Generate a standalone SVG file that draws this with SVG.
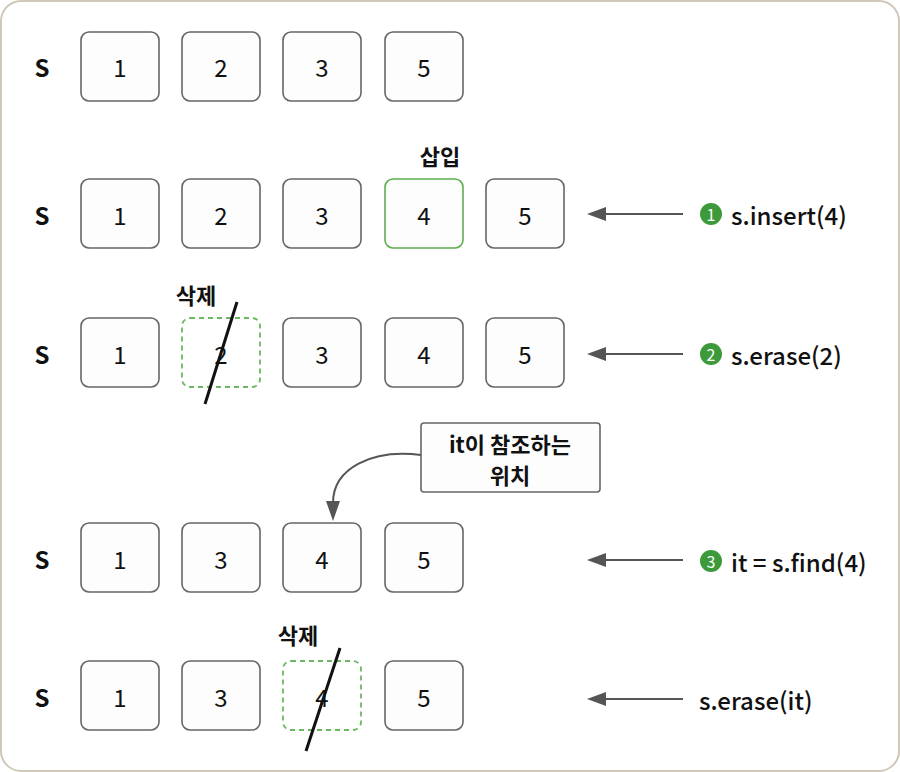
<svg xmlns="http://www.w3.org/2000/svg" width="900" height="772" viewBox="0 0 900 772">
<defs>
<style>
.frame{fill:#fff;stroke:#cfc8b8;stroke-width:2}
.box{fill:#fdfdfd;stroke:#666;stroke-width:1.6}
.ins{fill:#fdfdfd;stroke:#5cae4f;stroke-width:1.6}
.del{fill:none;stroke:#6ab85f;stroke-width:1.8;stroke-dasharray:5 4}
.t{font-family:"Noto Sans CJK KR","Noto Sans",sans-serif;font-size:24px;fill:#111;text-anchor:middle;dominant-baseline:central}
.s{font-family:"Noto Sans CJK KR","Noto Sans",sans-serif;font-size:24px;font-weight:bold;fill:#111;text-anchor:middle;dominant-baseline:central}
.lbl{font-family:"Noto Sans CJK KR","Noto Sans",sans-serif;font-size:24px;font-weight:500;fill:#111;dominant-baseline:central}
.k{font-family:"Noto Sans CJK KR",sans-serif;font-size:22px;font-weight:bold;fill:#111;text-anchor:middle;dominant-baseline:central}
.c{font-family:"Noto Sans CJK KR",sans-serif;font-size:22px;font-weight:bold;fill:#111;text-anchor:middle;dominant-baseline:central}
.num{font-family:"Noto Sans CJK KR","Noto Sans",sans-serif;font-size:16px;fill:#fff;text-anchor:middle;dominant-baseline:central}
.arr{stroke:#555;stroke-width:2;fill:none}
.head{fill:#555}
.slash{stroke:#111;stroke-width:3}
</style>
</defs>
<rect class="frame" x="1" y="1" width="898" height="770" rx="20"/>

<g id="row1">
<text class="s" x="42" y="66">S</text>
<g id="r1n1"><rect class="box" x="81" y="32" width="78" height="69" rx="8"/><text class="t" x="120" y="66">1</text></g>
<g id="r1n2"><rect class="box" x="182" y="32" width="78" height="69" rx="8"/><text class="t" x="221" y="66">2</text></g>
<g id="r1n3"><rect class="box" x="283" y="32" width="78" height="69" rx="8"/><text class="t" x="322" y="66">3</text></g>
<g id="r1n5"><rect class="box" x="385" y="32" width="78" height="69" rx="8"/><text class="t" x="424" y="66">5</text></g>
</g>

<g id="row2">
<text class="s" x="42" y="214">S</text>
<g id="r2n1"><rect class="box" x="81" y="179" width="78" height="69" rx="8"/><text class="t" x="120" y="214">1</text></g>
<g id="r2n2"><rect class="box" x="182" y="179" width="78" height="69" rx="8"/><text class="t" x="221" y="214">2</text></g>
<g id="r2n3"><rect class="box" x="283" y="179" width="78" height="69" rx="8"/><text class="t" x="322" y="214">3</text></g>
<g id="r2n4"><text class="k" x="440" y="155">삽입</text><rect class="ins" x="385" y="179" width="78" height="69" rx="8"/><text class="t" x="424" y="214">4</text></g>
<g id="r2n5"><rect class="box" x="486" y="179" width="78" height="69" rx="8"/><text class="t" x="525" y="214">5</text></g>
<g id="step1"><circle cx="711" cy="214" r="11" fill="#3d9a3a"/><text class="num" x="711" y="214">1</text><text class="lbl" x="731" y="214">s.insert(4)</text></g>
</g>

<g id="row3">
<text class="s" x="42" y="353">S</text>
<g id="r3n1"><rect class="box" x="81" y="318" width="78" height="69" rx="8"/><text class="t" x="120" y="353">1</text></g>
<g id="r3n2"><text class="k" x="196" y="294">삭제</text><rect class="del" x="182" y="318" width="78" height="69" rx="8"/><text class="t" x="221" y="353">2</text><line class="slash" x1="237" y1="302" x2="205" y2="404"/></g>
<g id="r3n3"><rect class="box" x="283" y="318" width="78" height="69" rx="8"/><text class="t" x="322" y="353">3</text></g>
<g id="r3n4"><rect class="box" x="385" y="318" width="78" height="69" rx="8"/><text class="t" x="424" y="353">4</text></g>
<g id="r3n5"><rect class="box" x="486" y="318" width="78" height="69" rx="8"/><text class="t" x="525" y="353">5</text></g>
<g id="step2"><circle cx="711" cy="354" r="11" fill="#3d9a3a"/><text class="num" x="711" y="354">2</text><text class="lbl" x="731" y="354">s.erase(2)</text></g>
</g>

<g id="callout">
<rect class="box" x="421" y="423" width="179" height="69" rx="3"/>
<text class="c" x="510" y="443">it이 참조하는</text>
<text class="c" x="510" y="474">위치</text>
</g>

<g id="row4">
<text class="s" x="42" y="558">S</text>
<g id="r4n1"><rect class="box" x="81" y="523" width="78" height="69" rx="8"/><text class="t" x="120" y="558">1</text></g>
<g id="r4n3"><rect class="box" x="182" y="523" width="78" height="69" rx="8"/><text class="t" x="221" y="558">3</text></g>
<g id="r4n4"><rect class="box" x="283" y="523" width="78" height="69" rx="8"/><text class="t" x="322" y="558">4</text></g>
<g id="r4n5"><rect class="box" x="385" y="523" width="78" height="69" rx="8"/><text class="t" x="424" y="558">5</text></g>
<g id="step3"><circle cx="711" cy="561" r="11" fill="#3d9a3a"/><text class="num" x="711" y="561">3</text><text class="lbl" x="731" y="561">it = s.find(4)</text></g>
</g>

<g id="row5">
<text class="s" x="42" y="696">S</text>
<g id="r5n1"><rect class="box" x="81" y="661" width="78" height="69" rx="8"/><text class="t" x="120" y="696">1</text></g>
<g id="r5n3"><rect class="box" x="182" y="661" width="78" height="69" rx="8"/><text class="t" x="221" y="696">3</text></g>
<g id="r5n4"><text class="k" x="298" y="634">삭제</text><rect class="del" x="283" y="661" width="78" height="69" rx="8"/><text class="t" x="322" y="696">4</text><line class="slash" x1="340" y1="648" x2="306" y2="751"/></g>
<g id="r5n5"><rect class="box" x="385" y="661" width="78" height="69" rx="8"/><text class="t" x="424" y="696">5</text></g>
<g id="step4"><text class="lbl" x="699" y="699">s.erase(it)</text></g>
</g>

<g id="connectors">
<line class="arr" x1="683" y1="214" x2="600" y2="214"/><path class="head" d="M587,214 L606,207 L606,221 Z"/>
<line class="arr" x1="683" y1="354" x2="600" y2="354"/><path class="head" d="M587,354 L606,347 L606,361 Z"/>
<line class="arr" x1="683" y1="560" x2="600" y2="560"/><path class="head" d="M587,560 L606,553 L606,567 Z"/>
<line class="arr" x1="683" y1="699" x2="600" y2="699"/><path class="head" d="M587,699 L606,692 L606,706 Z"/>
<path class="arr" d="M421,455 C372,449 333,468 333,503"/>
<path class="head" d="M326,501 L340,501 L333,521 Z"/>
</g>
</svg>
